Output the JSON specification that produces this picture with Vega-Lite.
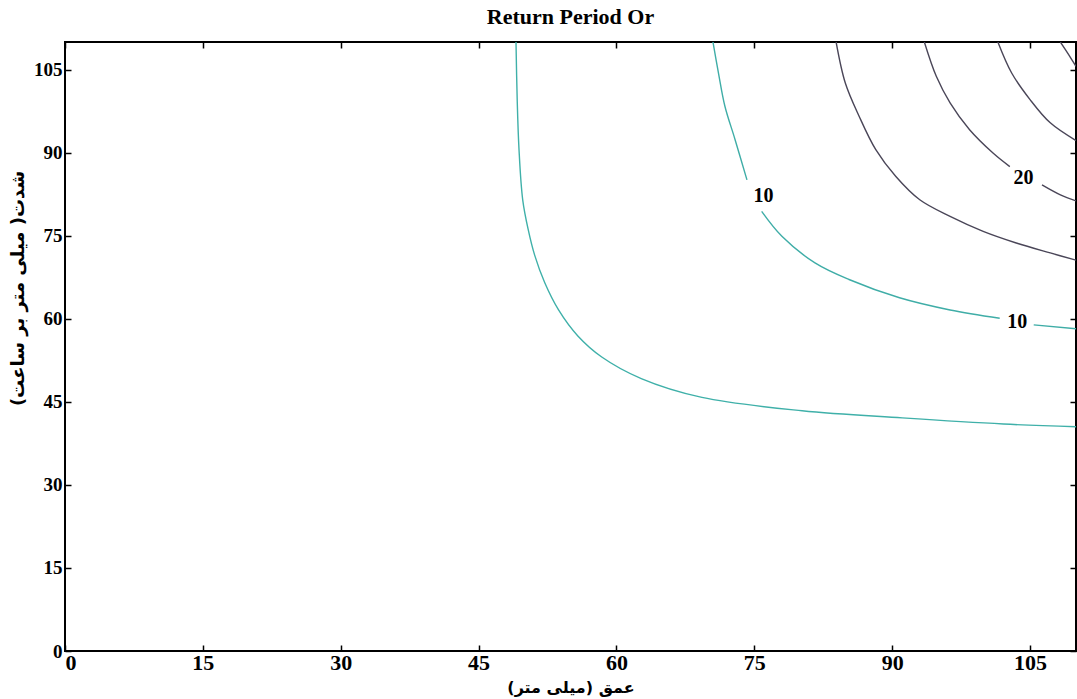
{
  "$schema": "https://vega.github.io/schema/vega-lite/v6.json",
  "autosize": "none",
  "width": 1011,
  "height": 609,
  "padding": {"left": 65, "top": 42, "right": 1, "bottom": 48},
  "background": "white",
  "title": {"text": "Return Period Or", "font": "Liberation Serif", "fontSize": 22, "fontWeight": "bold", "color": "black", "anchor": "middle", "offset": 12},
  "config": {
    "view": {"stroke": "black", "strokeWidth": 2},
    "axis": {"grid": false, "domain": false, "tickColor": "black", "tickWidth": 1.5, "tickSize": -6, "labelFont": "Liberation Serif", "labelFontSize": 22, "labelFontWeight": "bold", "labelColor": "black", "titleFont": "DejaVu Sans", "titleFontSize": 16, "titleFontWeight": "bold", "titleColor": "black"}
  },
  "datasets": {
    "curves": [
      {"level": "5", "seg": "5a", "o": 1, "x": 49.07, "y": 110},
      {"level": "5", "seg": "5a", "o": 2, "x": 49.2, "y": 99.6},
      {"level": "5", "seg": "5a", "o": 3, "x": 49.4, "y": 90.5},
      {"level": "5", "seg": "5a", "o": 4, "x": 49.8, "y": 81.5},
      {"level": "5", "seg": "5a", "o": 5, "x": 50.4, "y": 76.1},
      {"level": "5", "seg": "5a", "o": 6, "x": 51.1, "y": 71.5},
      {"level": "5", "seg": "5a", "o": 7, "x": 52.2, "y": 66.5},
      {"level": "5", "seg": "5a", "o": 8, "x": 53.7, "y": 61.6},
      {"level": "5", "seg": "5a", "o": 9, "x": 55.8, "y": 56.9},
      {"level": "5", "seg": "5a", "o": 10, "x": 58.4, "y": 53.1},
      {"level": "5", "seg": "5a", "o": 11, "x": 62.7, "y": 49.2},
      {"level": "5", "seg": "5a", "o": 12, "x": 69.3, "y": 45.8},
      {"level": "5", "seg": "5a", "o": 13, "x": 80.2, "y": 43.4},
      {"level": "5", "seg": "5a", "o": 14, "x": 91.1, "y": 42.1},
      {"level": "5", "seg": "5a", "o": 15, "x": 102.1, "y": 41.0},
      {"level": "5", "seg": "5a", "o": 16, "x": 110, "y": 40.5},
      {"level": "10", "seg": "10a", "o": 1, "x": 70.5, "y": 110},
      {"level": "10", "seg": "10a", "o": 2, "x": 71.1, "y": 104.4},
      {"level": "10", "seg": "10a", "o": 3, "x": 71.8, "y": 98.4},
      {"level": "10", "seg": "10a", "o": 4, "x": 72.9, "y": 92.4},
      {"level": "10", "seg": "10a", "o": 5, "x": 74.2, "y": 85.1},
      {"level": "10", "seg": "10b", "o": 6, "x": 75.8, "y": 79.4},
      {"level": "10", "seg": "10b", "o": 7, "x": 78.0, "y": 74.9},
      {"level": "10", "seg": "10b", "o": 8, "x": 81.6, "y": 70.1},
      {"level": "10", "seg": "10b", "o": 9, "x": 85.3, "y": 67.1},
      {"level": "10", "seg": "10b", "o": 10, "x": 90.8, "y": 63.8},
      {"level": "10", "seg": "10b", "o": 11, "x": 96.3, "y": 61.6},
      {"level": "10", "seg": "10b", "o": 12, "x": 101.7, "y": 60.1},
      {"level": "10", "seg": "10c", "o": 13, "x": 105.4, "y": 58.9},
      {"level": "10", "seg": "10c", "o": 14, "x": 110, "y": 58.2},
      {"level": "15", "seg": "15a", "o": 1, "x": 83.9, "y": 110},
      {"level": "15", "seg": "15a", "o": 2, "x": 84.9, "y": 102.6},
      {"level": "15", "seg": "15a", "o": 3, "x": 86.4, "y": 96.6},
      {"level": "15", "seg": "15a", "o": 4, "x": 88.2, "y": 90.6},
      {"level": "15", "seg": "15a", "o": 5, "x": 90.4, "y": 85.7},
      {"level": "15", "seg": "15a", "o": 6, "x": 93.0, "y": 81.5},
      {"level": "15", "seg": "15a", "o": 7, "x": 96.3, "y": 78.5},
      {"level": "15", "seg": "15a", "o": 8, "x": 99.9, "y": 75.8},
      {"level": "15", "seg": "15a", "o": 9, "x": 103.5, "y": 73.7},
      {"level": "15", "seg": "15a", "o": 10, "x": 107.2, "y": 71.9},
      {"level": "15", "seg": "15a", "o": 11, "x": 110, "y": 70.6},
      {"level": "20", "seg": "20a", "o": 1, "x": 93.5, "y": 110},
      {"level": "20", "seg": "20a", "o": 2, "x": 94.8, "y": 103.8},
      {"level": "20", "seg": "20a", "o": 3, "x": 96.3, "y": 99.0},
      {"level": "20", "seg": "20a", "o": 4, "x": 98.4, "y": 94.2},
      {"level": "20", "seg": "20a", "o": 5, "x": 101.0, "y": 89.9},
      {"level": "20", "seg": "20a", "o": 6, "x": 102.8, "y": 87.5},
      {"level": "20", "seg": "20b", "o": 7, "x": 106.3, "y": 84.2},
      {"level": "20", "seg": "20b", "o": 8, "x": 108.3, "y": 82.4},
      {"level": "20", "seg": "20b", "o": 9, "x": 110, "y": 81.3},
      {"level": "25", "seg": "25a", "o": 1, "x": 101.5, "y": 110},
      {"level": "25", "seg": "25a", "o": 2, "x": 103.0, "y": 104.4},
      {"level": "25", "seg": "25a", "o": 3, "x": 105.0, "y": 99.6},
      {"level": "25", "seg": "25a", "o": 4, "x": 107.2, "y": 95.4},
      {"level": "25", "seg": "25a", "o": 5, "x": 110, "y": 92.2},
      {"level": "30", "seg": "30a", "o": 1, "x": 108.3, "y": 110},
      {"level": "30", "seg": "30a", "o": 2, "x": 109.2, "y": 107.7},
      {"level": "30", "seg": "30a", "o": 3, "x": 110, "y": 105.6}
    ],
    "labels": [
      {"label": "10", "x": 76.0, "y": 82.2},
      {"label": "10", "x": 103.6, "y": 59.5},
      {"label": "20", "x": 104.3, "y": 85.5}
    ]
  },
  "resolve": {"axis": {"x": "independent", "y": "independent"}},
  "layer": [
    {
      "data": {"name": "curves"},
      "mark": {"type": "line", "interpolate": "catmull-rom", "strokeWidth": 1.4, "clip": true},
      "encoding": {
        "x": {"field": "x", "type": "quantitative", "scale": {"domain": [0, 110], "nice": false, "zero": false},
              "axis": {"orient": "bottom", "values": [0, 15, 30, 45, 60, 75, 90, 105], "labelPadding": 7, "title": "عمق (میلی متر)", "titlePadding": 6}},
        "y": {"field": "y", "type": "quantitative", "scale": {"domain": [0, 110], "nice": false, "zero": false},
              "axis": {"orient": "left", "values": [0, 15, 30, 45, 60, 75, 90, 105], "labelPadding": 9, "labelFontSize": 19, "title": "شدت( میلی متر بر ساعت)", "titleFontSize": 18, "titleAngle": -90, "titleX": -47, "titleY": 246, "titleAlign": "center", "titleBaseline": "middle"}},
        "detail": {"field": "seg"},
        "order": {"field": "o"},
        "color": {"field": "level", "type": "nominal", "legend": null,
                  "scale": {"domain": ["5", "10", "15", "20", "25", "30"], "range": ["#3fb0a9", "#3fada7", "#4a4658", "#4a4658", "#4a4658", "#4a4658"]}}
      }
    },
    {
      "data": {"name": "labels"},
      "mark": {"type": "text", "font": "Liberation Serif", "fontSize": 20, "fontWeight": "bold", "color": "black", "align": "center", "baseline": "middle"},
      "encoding": {
        "x": {"field": "x", "type": "quantitative", "axis": {"orient": "top", "values": [0, 15, 30, 45, 60, 75, 90, 105], "labels": false, "title": null}},
        "y": {"field": "y", "type": "quantitative", "axis": {"orient": "right", "values": [0, 15, 30, 45, 60, 75, 90, 105], "labels": false, "title": null}},
        "text": {"field": "label"}
      }
    }
  ]
}
